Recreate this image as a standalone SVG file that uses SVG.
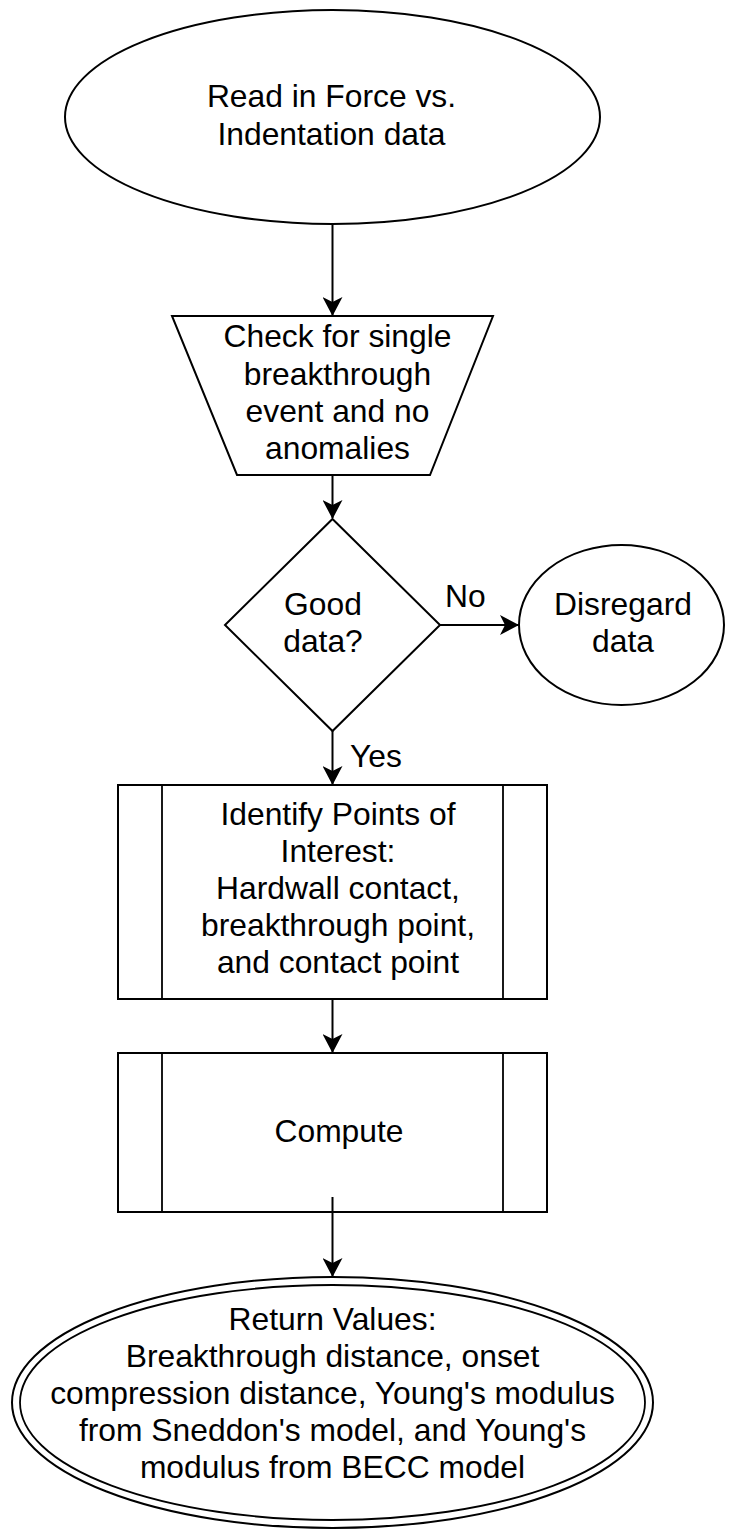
<svg xmlns="http://www.w3.org/2000/svg" width="730" height="1532" viewBox="0 0 730 1532">
  <defs>
    <marker id="arrow" markerUnits="userSpaceOnUse" markerWidth="19" markerHeight="20" viewBox="0 0 19 20" refX="18" refY="10" orient="auto">
      <path d="M0,0 L19,10 L0,20 L5,10 Z" fill="#000"/>
    </marker>
  </defs>
  <style>
    .shape { fill: #fff; stroke: #000; stroke-width: 2; }
    .thin { fill: none; stroke: #000; stroke-width: 1.8; }
    .edge { fill: none; stroke: #000; stroke-width: 2; marker-end: url(#arrow); }
    text { font-family: "Liberation Sans", Arial, Helvetica, sans-serif; font-size: 31.8px; fill: #000; text-anchor: middle; }
    .lbl { text-anchor: start; }
  </style>

  <rect width="730" height="1532" fill="#fff"/>

  <!-- start: read data -->
  <g id="read-data">
    <ellipse class="shape" cx="332.5" cy="117" rx="267.5" ry="107"/>
    <text x="331.5" y="107">Read in Force vs.</text>
    <text x="331.5" y="145">Indentation data</text>
  </g>

  <!-- manual check -->
  <g id="check">
    <polygon class="shape" points="172,316 493,316 430,475 237,475"/>
    <text x="337.5" y="347">Check for single</text>
    <text x="337.5" y="385">breakthrough</text>
    <text x="337.5" y="422">event and no</text>
    <text x="337.5" y="459">anomalies</text>
  </g>

  <!-- decision -->
  <g id="good-data">
    <polygon class="shape" points="332.5,519 440,625 332.5,731 225,625"/>
    <text x="323" y="615">Good</text>
    <text x="323" y="652">data?</text>
  </g>

  <!-- rejected branch -->
  <g id="disregard">
    <ellipse class="shape" cx="621.5" cy="625" rx="102.5" ry="80"/>
    <text x="623" y="615">Disregard</text>
    <text x="623" y="652">data</text>
  </g>

  <!-- predefined process: points of interest -->
  <g id="identify">
    <rect class="shape" x="118" y="785" width="429" height="214"/>
    <line class="thin" x1="162" y1="785" x2="162" y2="999"/>
    <line class="thin" x1="503" y1="785" x2="503" y2="999"/>
    <text x="338" y="825">Identify Points of</text>
    <text x="338" y="862">Interest:</text>
    <text x="338" y="899">Hardwall contact,</text>
    <text x="338" y="936">breakthrough point,</text>
    <text x="338" y="973">and contact point</text>
  </g>

  <!-- predefined process: compute -->
  <g id="compute">
    <rect class="shape" x="118" y="1053" width="429" height="159"/>
    <line class="thin" x1="162" y1="1053" x2="162" y2="1212"/>
    <line class="thin" x1="503" y1="1053" x2="503" y2="1212"/>
    <text x="339" y="1142">Compute</text>
  </g>

  <!-- end: returned values -->
  <g id="return-values">
    <ellipse class="shape" cx="332.5" cy="1402.5" rx="320.5" ry="125.5"/>
    <ellipse class="thin" cx="332.5" cy="1402.5" rx="312.5" ry="117.5"/>
    <text x="332.5" y="1330">Return Values:</text>
    <text x="332.5" y="1367">Breakthrough distance, onset</text>
    <text x="332.5" y="1404">compression distance, Young's modulus</text>
    <text x="332.5" y="1441">from Sneddon's model, and Young's</text>
    <text x="332.5" y="1478">modulus from BECC model</text>
  </g>

  <!-- connectors (drawn last so the compute exit stub shows inside its box) -->
  <g id="edges">
    <line class="edge" x1="332.5" y1="224" x2="332.5" y2="315"/>
    <line class="edge" x1="332.5" y1="475" x2="332.5" y2="518"/>
    <line class="edge" x1="440" y1="625" x2="518" y2="625"/>
    <text class="lbl" x="445" y="607">No</text>
    <line class="edge" x1="332.5" y1="731" x2="332.5" y2="784"/>
    <text class="lbl" x="350" y="767">Yes</text>
    <line class="edge" x1="332.5" y1="1000" x2="332.5" y2="1052"/>
    <line class="edge" x1="332.5" y1="1197" x2="332.5" y2="1276"/>
  </g>
</svg>
